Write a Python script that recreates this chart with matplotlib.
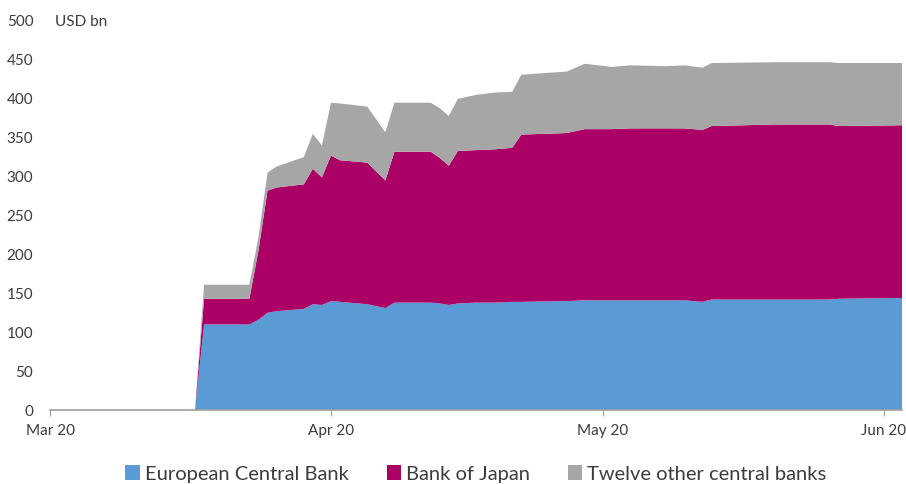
"""USD swap line usage: ECB, BoJ and twelve other central banks, stacked."""
import matplotlib
matplotlib.use("Agg")
import matplotlib.pyplot as plt
import matplotlib.dates as mdates
from matplotlib.patches import Patch
import pandas as pd

dates = pd.to_datetime([
    "2020-03-01", "2020-03-17", "2020-03-18", "2020-03-23", "2020-03-24",
    "2020-03-25", "2020-03-26", "2020-03-29", "2020-03-30", "2020-03-31",
    "2020-04-01", "2020-04-02", "2020-04-05", "2020-04-07", "2020-04-08",
    "2020-04-12", "2020-04-13", "2020-04-14", "2020-04-15", "2020-04-17",
    "2020-04-19", "2020-04-21", "2020-04-22", "2020-04-27", "2020-04-29",
    "2020-05-02", "2020-05-04", "2020-05-08", "2020-05-10", "2020-05-12",
    "2020-05-13", "2020-05-20", "2020-05-26", "2020-05-27", "2020-06-03",
])
ecb = [0, 0, 110, 110, 116, 125, 127, 130, 136, 135,
       140, 139, 136, 131, 138, 138, 137, 135, 137, 138,
       138, 139, 139, 140, 141, 141, 141, 141, 141, 139,
       142, 142, 142, 143, 144]
boj = [0, 0, 33, 33, 89, 157, 159, 160, 174, 164,
       187, 182, 182, 164, 194, 194, 187, 179, 196, 196,
       197, 198, 215, 216, 220, 220, 221, 221, 221, 221,
       223, 225, 225, 222, 222]
other = [0, 0, 18, 18, 17, 23, 27, 35, 45, 41,
         68, 73, 72, 62, 63, 63, 64, 64, 67, 71,
         73, 72, 77, 79, 84, 80, 81, 80, 81, 80,
         81, 80, 80, 81, 80]
labels = ["European Central Bank", "Bank of Japan", "Twelve other central banks"]
colors = ["#5b9bd5", "#ab0066", "#a6a6a6"]

plt.rcParams["font.family"] = ["Lato", "DejaVu Sans"]
TXT = "#3c3c3c"

fig = plt.figure(figsize=(9.06, 4.84), dpi=100)
ax = fig.add_axes([50 / 906, 1 - 410 / 484, 852 / 906, 389 / 484])
ax.stackplot(dates, ecb, boj, other, colors=colors, linewidth=0)

ax.set_xlim(pd.Timestamp("2020-03-01"), pd.Timestamp("2020-06-03"))
ax.set_ylim(0, 500)
ax.set_yticks(range(0, 501, 50))
ax.xaxis.set_major_locator(mdates.MonthLocator())
ax.xaxis.set_major_formatter(mdates.DateFormatter("%b %y"))

for side in ["top", "right", "left"]:
    ax.spines[side].set_visible(False)
ax.spines["bottom"].set_color("#a0a0a0")
ax.spines["bottom"].set_linewidth(1.2)
ax.tick_params(axis="y", length=0, pad=12, labelsize=11, labelcolor=TXT)
ax.tick_params(axis="x", length=4, color="#a0a0a0", pad=6,
               labelsize=11, labelcolor=TXT)
for t in ax.get_xticklabels():
    t.set_clip_on(False)

ax.text(55 / 906, 1 - 22 / 484, "USD bn", transform=fig.transFigure,
        ha="left", va="center", fontsize=11, color=TXT)

handles = [Patch(facecolor=c, edgecolor="none") for c in colors]
fig.legend(handles, labels, loc="center", bbox_to_anchor=(476 / 906, 1 - 474 / 484),
           ncol=3, frameon=False, fontsize=14.5, handlelength=0.7, handleheight=0.7,
           handletextpad=0.25, columnspacing=1.9, labelcolor=TXT)

fig.savefig("out.png", dpi=100)
plt.close(fig)
